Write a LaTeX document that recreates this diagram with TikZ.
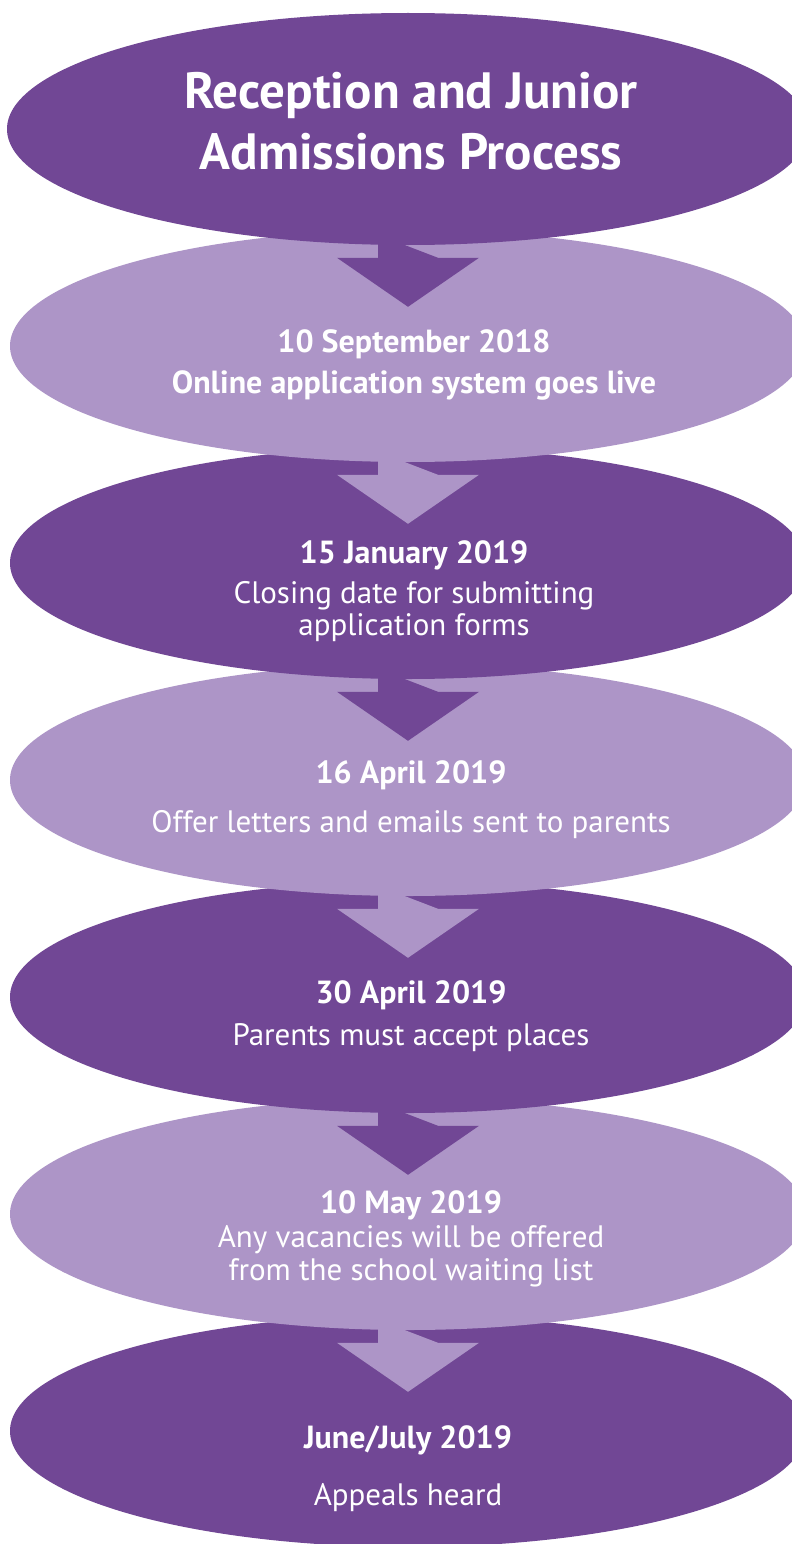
\documentclass[tikz,border=0pt]{standalone}
\usepackage{fontspec}
\setmainfont{PT Sans}
\usetikzlibrary{shapes.geometric}
\definecolor{darkpurple}{HTML}{714795}
\definecolor{lightpurple}{HTML}{AD95C7}
\begin{document}
\begin{tikzpicture}[x=1pt,y=-1pt,
  stage/.style={ellipse,minimum width=796pt,minimum height=232pt,inner sep=0pt},
  darkstage/.style={stage,fill=darkpurple},
  lightstage/.style={stage,fill=lightpurple},
  titletext/.style={anchor=base,text=white,font=\fontsize{51}{60}\selectfont\bfseries},
  datetext/.style={anchor=base,text=white,font=\fontsize{32}{38}\selectfont\bfseries},
  infotext/.style={anchor=base,text=white,font=\fontsize{31}{37}\selectfont}]
  \useasboundingbox (0,0) rectangle (792,1544);
  \clip (0,0) rectangle (792,1544);
  % stages from the bottom up, each arrow under the stage above it
  \node[darkstage] (s7) at (408,1431) {};
  \fill[lightpurple] (s7.north) ++(-30,5) -- ++(0,23) -- ++(-41,0) -- ++(71,49) -- ++(71,-49) -- ++(-41,0) -- cycle;
  \node[lightstage] (s6) at (408,1214) {};
  \fill[darkpurple] (s6.north) ++(-30,5) -- ++(0,23) -- ++(-41,0) -- ++(71,49) -- ++(71,-49) -- ++(-41,0) -- cycle;
  \node[darkstage] (s5) at (408,997) {};
  \fill[lightpurple] (s5.north) ++(-30,5) -- ++(0,23) -- ++(-41,0) -- ++(71,49) -- ++(71,-49) -- ++(-41,0) -- cycle;
  \node[lightstage] (s4) at (408,780) {};
  \fill[darkpurple] (s4.north) ++(-30,5) -- ++(0,23) -- ++(-41,0) -- ++(71,49) -- ++(71,-49) -- ++(-41,0) -- cycle;
  \node[darkstage] (s3) at (408,563) {};
  \fill[lightpurple] (s3.north) ++(-30,5) -- ++(0,23) -- ++(-41,0) -- ++(71,49) -- ++(71,-49) -- ++(-41,0) -- cycle;
  \node[lightstage] (s2) at (408,346) {};
  \fill[darkpurple] (s2.north) ++(-30,5) -- ++(0,23) -- ++(-41,0) -- ++(71,49) -- ++(71,-49) -- ++(-41,0) -- cycle;
  \node[darkstage,minimum width=802pt] (s1) at (408,129) {};
  % texts
  \node[titletext] (title1) at (411,109) {Reception and Junior};
  \node[titletext] (title2) at (411,169) {Admissions Process};
  \node[datetext] (d2) at (414,352) {10 September 2018};
  \node[datetext] (i2) at (414,393) {Online application system goes live};
  \node[datetext] (d3) at (414,563) {15 January 2019};
  \node[infotext] (i3a) at (414,603) {Closing date for submitting};
  \node[infotext] (i3b) at (414,635) {application forms};
  \node[datetext] (d4) at (411,783) {16 April 2019};
  \node[infotext] (i4) at (411,832) {Offer letters and emails sent to parents};
  \node[datetext] (d5) at (411,1003) {30 April 2019};
  \node[infotext] (i5) at (411,1045) {Parents must accept places};
  \node[datetext] (d6) at (411,1213) {10 May 2019};
  \node[infotext] (i6a) at (411,1247) {Any vacancies will be offered};
  \node[infotext] (i6b) at (411,1280) {from the school waiting list};
  \node[datetext] (d7) at (408,1448) {June/July 2019};
  \node[infotext] (i7) at (408,1505) {Appeals heard};
\end{tikzpicture}
\end{document}
